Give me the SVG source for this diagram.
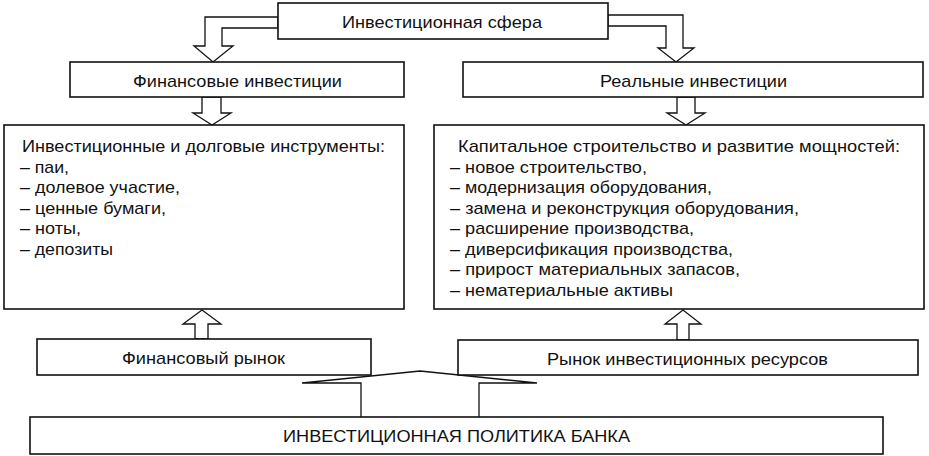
<svg xmlns="http://www.w3.org/2000/svg" width="929" height="456" viewBox="0 0 929 456">
<style>
.box{fill:#fff;stroke:#111;stroke-width:1.6}
.arr{fill:#fff;stroke:#111;stroke-width:1.3;stroke-linejoin:miter}
text{font-family:"Liberation Sans",Arial,sans-serif;font-size:17px;fill:#111}
.c{text-anchor:middle}
</style>
<rect width="929" height="456" fill="#fff"/>
<g id="connectors">
<polygon class="arr" points="278,17 205,17 205,46 194,46 213,62 233,46 222,46 222,28 278,28"/>
<polygon class="arr" points="608,15 683,15 683,48 694,48 676,62 658,48 666,48 666,26 608,26"/>
<polygon class="arr" points="202,97 221,97 221,113 231,113 212,125 193,113 202,113"/>
<polygon class="arr" points="677,97 695,97 695,113 705,113 686,125 667,113 677,113"/>
<polygon class="arr" points="195,339 195,324 183,324 202,310 221,324 208,324 208,339"/>
<polygon class="arr" points="677,340 677,324 665,324 683,310 701,324 689,324 689,340"/>
<polyline class="arr" points="361,417 361,383 302,383 420,371 537,383 479,383 479,417"/>
</g>
<g id="n-sphere">
<rect class="box" x="278" y="3" width="330" height="36"/>
<text class="c" x="442" y="28" textLength="200" lengthAdjust="spacingAndGlyphs">Инвестиционная сфера</text>
</g>
<g id="n-fin-inv">
<rect class="box" x="70" y="62" width="334" height="35"/>
<text class="c" x="237.5" y="87" textLength="209" lengthAdjust="spacingAndGlyphs">Финансовые инвестиции</text>
</g>
<g id="n-real-inv">
<rect class="box" x="463" y="62" width="460" height="35"/>
<text class="c" x="693.5" y="87" textLength="187" lengthAdjust="spacingAndGlyphs">Реальные инвестиции</text>
</g>
<g id="n-instruments">
<rect class="box" x="4" y="125" width="400" height="184"/>
<text x="22" y="152" textLength="363" lengthAdjust="spacingAndGlyphs">Инвестиционные и долговые инструменты:</text>
<text x="20" y="172.5" textLength="49" lengthAdjust="spacingAndGlyphs">– паи,</text>
<text x="20" y="193" textLength="160" lengthAdjust="spacingAndGlyphs">– долевое участие,</text>
<text x="20" y="213.5" textLength="146" lengthAdjust="spacingAndGlyphs">– ценные бумаги,</text>
<text x="20" y="234" textLength="61" lengthAdjust="spacingAndGlyphs">– ноты,</text>
<text x="20" y="254.5" textLength="93" lengthAdjust="spacingAndGlyphs">– депозиты</text>
</g>
<g id="n-capital">
<rect class="box" x="434" y="125" width="490" height="184"/>
<text x="458" y="152" textLength="442" lengthAdjust="spacingAndGlyphs">Капитальное строительство и развитие мощностей:</text>
<text x="450" y="172.5" textLength="197" lengthAdjust="spacingAndGlyphs">– новое строительство,</text>
<text x="450" y="193" textLength="262" lengthAdjust="spacingAndGlyphs">– модернизация оборудования,</text>
<text x="450" y="213.5" textLength="349" lengthAdjust="spacingAndGlyphs">– замена и реконструкция оборудования,</text>
<text x="450" y="234" textLength="244" lengthAdjust="spacingAndGlyphs">– расширение производства,</text>
<text x="450" y="254.5" textLength="283" lengthAdjust="spacingAndGlyphs">– диверсификация производства,</text>
<text x="450" y="275" textLength="290" lengthAdjust="spacingAndGlyphs">– прирост материальных запасов,</text>
<text x="450" y="295.5" textLength="223" lengthAdjust="spacingAndGlyphs">– нематериальные активы</text>
</g>
<g id="n-fin-market">
<rect class="box" x="37" y="339" width="334" height="36"/>
<text class="c" x="203.5" y="364" textLength="163" lengthAdjust="spacingAndGlyphs">Финансовый рынок</text>
</g>
<g id="n-res-market">
<rect class="box" x="458" y="340" width="460" height="35"/>
<text class="c" x="687.5" y="365" textLength="281" lengthAdjust="spacingAndGlyphs">Рынок инвестиционных ресурсов</text>
</g>
<g id="n-policy">
<rect class="box" x="30" y="417" width="853" height="37"/>
<text class="c" x="456.5" y="442" textLength="347" lengthAdjust="spacingAndGlyphs">ИНВЕСТИЦИОННАЯ ПОЛИТИКА БАНКА</text>
</g>
</svg>
